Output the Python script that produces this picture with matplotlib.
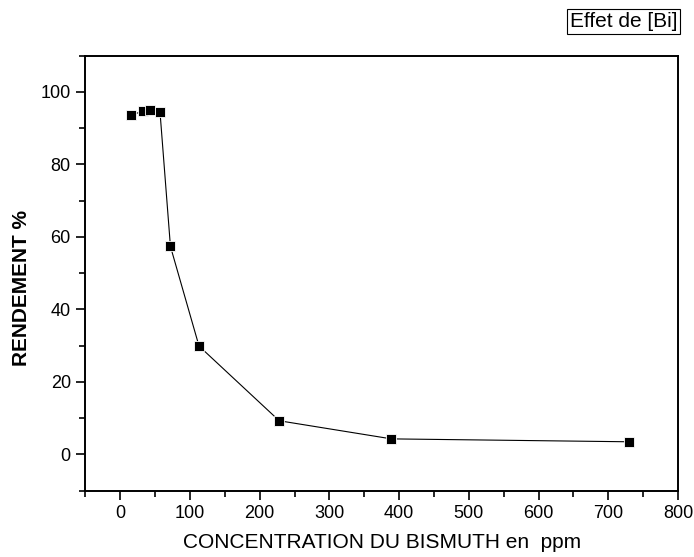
import matplotlib
matplotlib.use("Agg")
import matplotlib.pyplot as plt
from matplotlib.ticker import MultipleLocator

plt.rcParams['font.family'] = ['Liberation Sans', 'DejaVu Sans']

# concentration du bismuth (ppm) et rendement (%)
conc = [15, 33, 42, 57, 72, 113, 228, 389, 729]
rendement = [93.6, 94.7, 95.1, 94.6, 57.4, 29.9, 9.3, 4.3, 3.5]

fig = plt.figure(figsize=(6.94, 5.57), dpi=100)
ax = fig.add_axes([0.123, 0.119, 0.854, 0.781])

ax.plot(conc, rendement, color="black", linewidth=0.8, marker="s",
        markersize=7.5, markerfacecolor="black", markeredgecolor="white",
        markeredgewidth=0.6)

ax.set_xlim(-50, 800)
ax.set_ylim(-10, 110)
ax.xaxis.set_major_locator(MultipleLocator(100))
ax.xaxis.set_minor_locator(MultipleLocator(50))
ax.yaxis.set_major_locator(MultipleLocator(20))
ax.yaxis.set_minor_locator(MultipleLocator(10))
ax.tick_params(which="both", direction="out", width=1.2, labelsize=13)
ax.tick_params(which="major", length=6.5, pad=4)
ax.tick_params(which="minor", length=4)
ax.tick_params(axis="x", pad=4)
for s in ax.spines.values():
    s.set_linewidth(1.4)

ax.set_xlabel("CONCENTRATION DU BISMUTH en  ppm", fontsize=15, labelpad=8)
ax.set_ylabel("RENDEMENT %", fontsize=15, fontweight="bold")
ax.yaxis.set_label_coords(-0.092, 0.467)

fig.text(0.976, 0.962, "Effet de [Bi]", fontsize=15, ha="right", va="center",
         bbox=dict(boxstyle="square,pad=0.15", facecolor="white",
                   edgecolor="black", linewidth=0.8))

fig.savefig("out.png", dpi=100)
